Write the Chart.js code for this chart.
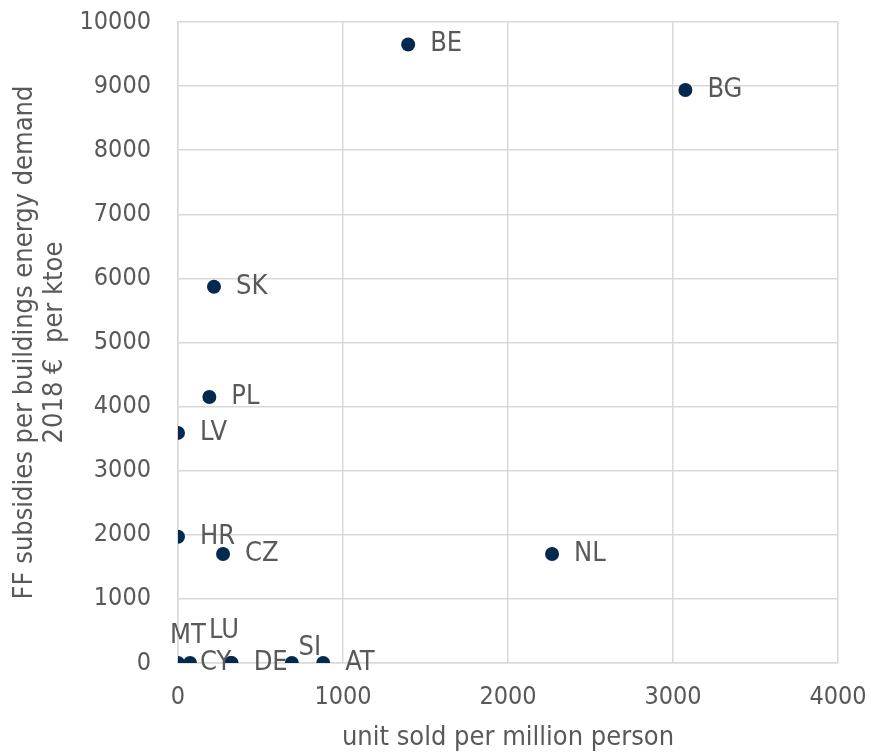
<!DOCTYPE html>
<html>
<head>
<meta charset="utf-8">
<script src="https://cdn.jsdelivr.net/npm/chart.js@4/dist/chart.umd.min.js"></script>
<style>
  html, body { margin: 0; padding: 0; background: #fff; }
  #wrap { width: 871px; height: 754px; }
</style>
</head>
<body>
<div id="wrap"><canvas id="c" width="871" height="754"></canvas></div>
<script>
// Data
const countries = ['BE', 'BG', 'SK', 'PL', 'LV', 'HR', 'CZ', 'NL', 'MT', 'CY', 'LU', 'DE', 'SI', 'AT'];
const unitsSold = [1395, 3075, 218, 190, 0, 0, 273, 2267, 0, 73, 321, 325, 690, 880];
const subsidies = [9650, 8940, 5870, 4150, 3590, 1970, 1700, 1700, 0, 0, 0, 0, 0, 0];
const xTicks = [0, 1000, 2000, 3000, 4000];
const yTicks = [0, 1000, 2000, 3000, 4000, 5000, 6000, 7000, 8000, 9000, 10000];

// Label placement (styling): dx, dy offsets from the point, and text alignment
const labelPlacement = {
  MT: { dx: 10, dy: -27, align: 'center' },
  LU: { dx: -7, dy: -32, align: 'center' },
  SI: { dx: 18, dy: -15, align: 'center' },
  CY: { dx: 10, dy: 0, align: 'left' }
};

const FONT = '"DejaVu Sans Condensed", "DejaVu Sans", sans-serif';
const TEXT = '#595959';

const points = countries.map((c, i) => ({ x: unitsSold[i], y: subsidies[i], label: c }));

const labelPlugin = {
  id: 'pointLabels',
  afterDatasetsDraw(chart) {
    const ctx = chart.ctx;
    const meta = chart.getDatasetMeta(0);
    ctx.save();
    ctx.font = '27px ' + FONT;
    ctx.fillStyle = TEXT;
    ctx.textBaseline = 'middle';
    meta.data.forEach((el, i) => {
      const name = countries[i];
      const p = labelPlacement[name] || { dx: 22, dy: 0, align: 'left' };
      ctx.textAlign = p.align;
      ctx.fillText(name, el.x + p.dx, el.y + p.dy);
    });
    ctx.restore();
  }
};

new Chart(document.getElementById('c'), {
  type: 'scatter',
  data: {
    datasets: [{
      data: points,
      backgroundColor: '#04294f',
      borderColor: '#04294f',
      pointRadius: 7,
      pointHoverRadius: 7,
      borderWidth: 0
    }]
  },
  options: {
    responsive: false,
    animation: false,
    events: [],
    layout: { padding: 0 },
    plugins: { legend: { display: false }, tooltip: { enabled: false } },
    scales: {
      x: {
        type: 'linear',
        min: 0, max: 4000,
        afterBuildTicks(axis) { axis.ticks = xTicks.map(v => ({ value: v })); },
        afterFit(axis) { axis.height = 91; axis.paddingLeft = 0; axis.paddingRight = 33; },
        grid: { color: '#d9d9d9', lineWidth: 1.5, drawTicks: false },
        border: { color: '#d9d9d9', width: 1.5 },
        ticks: { color: TEXT, font: { family: FONT, size: 25 }, padding: 19, maxRotation: 0,
                 callback: v => String(v) },
        title: { display: true, text: 'unit sold per million person', color: TEXT,
                 font: { family: FONT, size: 27 }, padding: { top: 0, bottom: 0 } }
      },
      y: {
        type: 'linear',
        min: 0, max: 10000,
        afterBuildTicks(axis) { axis.ticks = yTicks.map(v => ({ value: v })); },
        afterFit(axis) { axis.width = 178; axis.paddingTop = 22; axis.paddingBottom = 0; },
        grid: { color: '#d9d9d9', lineWidth: 1.5, drawTicks: false },
        border: { color: '#d9d9d9', width: 1.5 },
        ticks: { color: TEXT, font: { family: FONT, size: 25 }, padding: 27,
                 callback: v => String(v) },
        title: { display: true, text: ['FF subsidies per buildings energy demand', '2018 €  per ktoe'], color: TEXT,
                 font: { family: FONT, size: 27, lineHeight: 1.12 }, padding: { top: 10, bottom: 0 } }
      }
    }
  },
  plugins: [labelPlugin]
});
</script>
</body>
</html>
